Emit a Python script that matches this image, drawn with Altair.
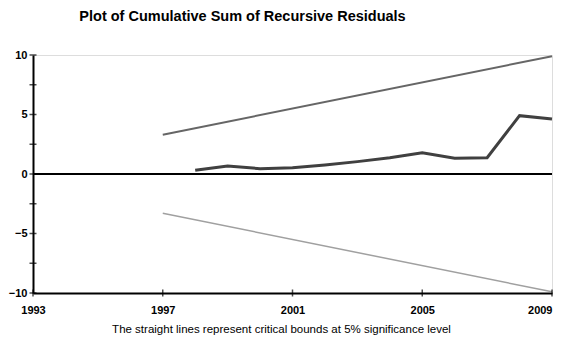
import altair as alt
import pandas as pd

# Data
cusum_years = [1998, 1999, 2000, 2001, 2002, 2003, 2004, 2005, 2006, 2007, 2008, 2009]
cusum_values = [0.31, 0.67, 0.45, 0.53, 0.76, 1.04, 1.37, 1.79, 1.32, 1.37, 4.90, 4.62]
bound_years = [1997, 2009]
upper_bound = [3.3, 9.9]
lower_bound = [-3.3, -9.9]
x_tick_years = [1993, 1997, 2001, 2005, 2009]
y_label_values = [-10, -5, 0, 5, 10]
y_tick_values = [-10, -7.5, -5, -2.5, 0, 2.5, 5, 7.5, 10]

W, H = 519, 238
FONT = "Liberation Sans"
SUB = "The straight lines represent critical bounds at 5% significance level"

cusum_df = pd.DataFrame({"year": cusum_years, "value": cusum_values})
up_df = pd.DataFrame({"year": bound_years, "value": upper_bound})
lo_df = pd.DataFrame({"year": bound_years, "value": lower_bound})
xt_df = pd.DataFrame({"year": x_tick_years})
yt_df = pd.DataFrame({"value": y_tick_values})
zero_df = pd.DataFrame({"value": [0]})

xaxis = alt.Axis(values=x_tick_years, format="d", ticks=False, grid=False,
                 domainColor="black", domainWidth=2, labelFont=FONT, labelFontSize=11,
                 labelFontWeight="bold", labelColor="black", labelPadding=11,
                 labelAlign=alt.ExprRef(expr="datum.value == 2009 ? 'right' : 'center'"),
                 labelFlush=False,
                 title=SUB, titleFont=FONT, titleFontSize=11.5, titleFontWeight="normal",
                 titleColor="black", titlePadding=8, titleX=248, titleAlign="center")
yaxis = alt.Axis(values=y_label_values, ticks=False, grid=False,
                 domainColor="black", domainWidth=2, labelFont=FONT, labelFontSize=11,
                 labelFontWeight="bold", labelColor="black", labelPadding=6,
                 title=None, labelFlush=False)

xenc = alt.X("year:Q", scale=alt.Scale(domain=[1993, 2009], nice=False, zero=False), axis=xaxis)
yenc = alt.Y("value:Q", scale=alt.Scale(domain=[-10, 10], nice=False), axis=yaxis)

upper = alt.Chart(up_df).mark_line(color="#666666", strokeWidth=2).encode(x=xenc, y=yenc)
lower = alt.Chart(lo_df).mark_line(color="#a0a0a0", strokeWidth=1.5).encode(x=xenc, y=yenc)
zero = alt.Chart(zero_df).mark_rule(color="black", strokeWidth=2).encode(y=yenc)
cusum = alt.Chart(cusum_df).mark_line(color="#404040", strokeWidth=3).encode(x=xenc, y=yenc)
yticks = alt.Chart(yt_df).mark_tick(orient="horizontal", size=7, thickness=1.5, color="black").encode(
    y=yenc, x=alt.value(0))
xticks = alt.Chart(xt_df).mark_tick(orient="vertical", size=7, thickness=1.5, color="black").encode(
    x=xenc, y=alt.value(H))

chart = alt.layer(upper, lower, zero, cusum, yticks, xticks).properties(
    width=W, height=H,
    title=alt.TitleParams("Plot of Cumulative Sum of Recursive Residuals", font=FONT, fontSize=14.5,
                          fontWeight="bold", color="black", anchor="middle", frame="group",
                          dx=-50, offset=25),
    autosize=alt.AutoSizeParams(type="none"),
    padding={"left": 25, "top": 47, "right": 2, "bottom": 42},
).configure_view(stroke=None).configure(background="white")

chart.save("out.html", embed_options={"renderer": "svg", "actions": False})
